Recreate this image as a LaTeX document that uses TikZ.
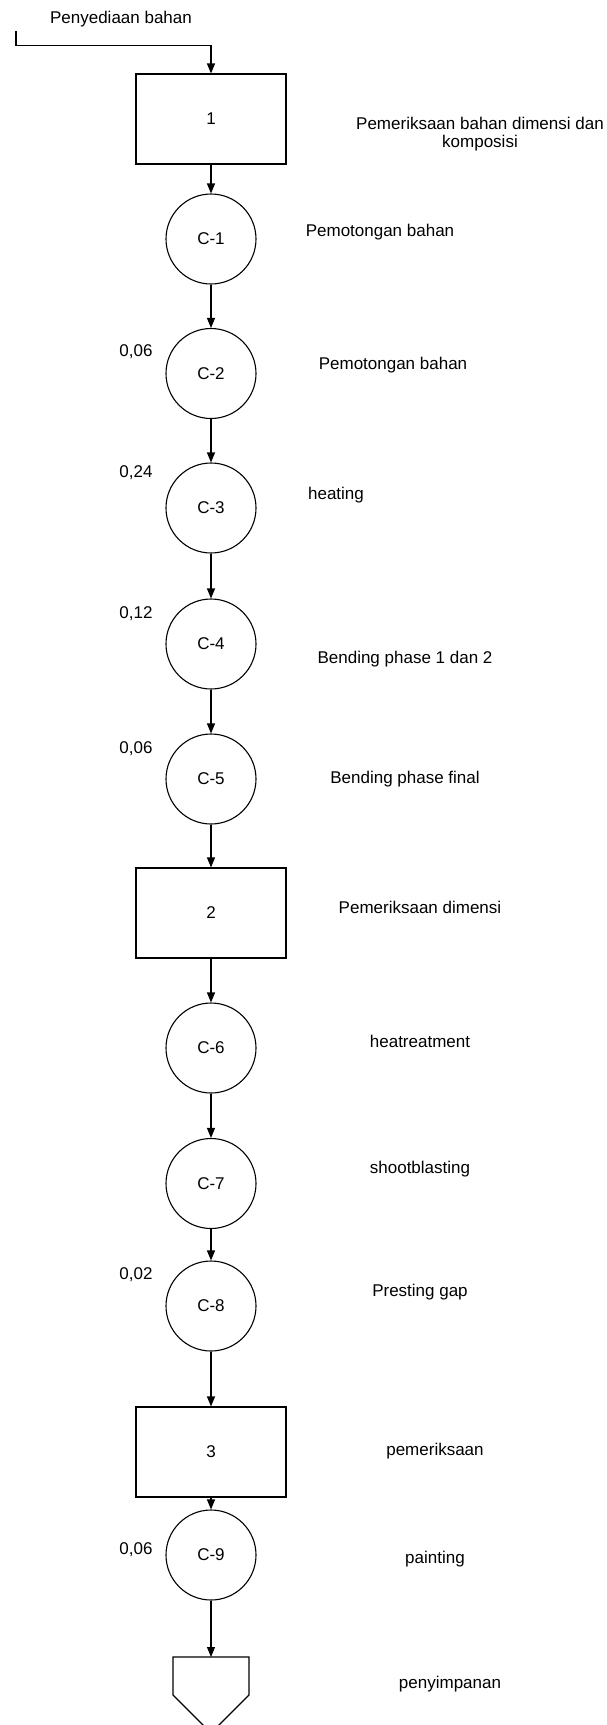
\documentclass[tikz,border=0pt]{standalone}
\usepackage{fontspec}
\setmainfont{Liberation Sans}
\usetikzlibrary{arrows.meta}
\begin{document}
\begin{tikzpicture}[x=1pt,y=-1pt,
  every node/.style={font=\fontsize{17}{19}\selectfont},
  proc/.style={draw, circle, line width=1.1pt, minimum size=90pt, inner sep=0pt},
  insp/.style={draw, rectangle, line width=1.1pt, minimum width=150pt, minimum height=90pt, inner sep=0pt},
  lbl/.style={anchor=base, inner sep=0pt},
  flow/.style={line width=1.1pt, -{Triangle[length=10pt,width=8pt]}},
  plain/.style={line width=1.1pt}]
\clip (0,0) rectangle (607,1725);
\fill[white] (0,0) rectangle (607,1725);

% main column
\node[insp] (b1) at (211,119) {1};
\node[proc] (c1) at (211,239) {C-1};
\node[proc] (c2) at (211,373.5) {C-2};
\node[proc] (c3) at (211,508) {C-3};
\node[proc] (c4) at (211,644) {C-4};
\node[proc] (c5) at (211,779) {C-5};
\node[insp] (b2) at (211,913) {2};
\node[proc] (c6) at (211,1048) {C-6};
\node[proc] (c7) at (211,1183.5) {C-7};
\node[proc] (c8) at (211,1306) {C-8};
\node[insp] (b3) at (211,1452) {3};
\node[proc] (c9) at (211,1555) {C-9};
\coordinate (pent) at (211,1657);
\draw[plain] (pent) -- (249,1657) -- (249,1695) -- (211,1733) -- (173,1695) -- (173,1657) -- cycle;

% start
\coordinate (s0) at (16,31);
\coordinate (s1) at (16,45.5);
\draw[flow] (s0) -- (s1) -| (b1.north);

% connectors
\draw[flow] (b1.south) -- (c1.north);
\draw[flow] (c1.south) -- (c2.north);
\draw[flow] (c2.south) -- (c3.north);
\draw[flow] (c3.south) -- (c4.north);
\draw[flow] (c4.south) -- (c5.north);
\draw[flow] (c5.south) -- (b2.north);
\draw[flow] (b2.south) -- (c6.north);
\draw[flow] (c6.south) -- (c7.north);
\draw[flow] (c7.south) -- (c8.north);
\draw[flow] (c8.south) -- (b3.north);
\draw[flow] (b3.south) -- (c9.north);
\draw[flow] (c9.south) -- (pent);

% labels
\node[lbl] (t0) at (121,23) {Penyediaan bahan};
\node[align=center, inner sep=0pt, font=\fontsize{17}{18}\selectfont] (t1) at (480,134) {Pemeriksaan bahan dimensi dan\\komposisi};
\node[lbl] (t2) at (380,236) {Pemotongan bahan};
\node[lbl] (t3) at (393,369) {Pemotongan bahan};
\node[lbl] (t4) at (336,499) {heating};
\node[lbl] (t5) at (405,663) {Bending phase 1 dan 2};
\node[lbl] (t6) at (405,783) {Bending phase final};
\node[lbl] (t7) at (420,913) {Pemeriksaan dimensi};
\node[lbl] (t8) at (420,1047) {heatreatment};
\node[lbl] (t9) at (420,1173) {shootblasting};
\node[lbl] (t10) at (420,1296) {Presting gap};
\node[lbl] (t11) at (435,1455) {pemeriksaan};
\node[lbl] (t12) at (435,1563) {painting};
\node[lbl] (t13) at (450,1688) {penyimpanan};

% values
\node[lbl] (v2) at (136,356) {0,06};
\node[lbl] (v3) at (136,477) {0,24};
\node[lbl] (v4) at (136,618) {0,12};
\node[lbl] (v5) at (136,753) {0,06};
\node[lbl] (v8) at (136,1279) {0,02};
\node[lbl] (v9) at (136,1554) {0,06};
\end{tikzpicture}
\end{document}
